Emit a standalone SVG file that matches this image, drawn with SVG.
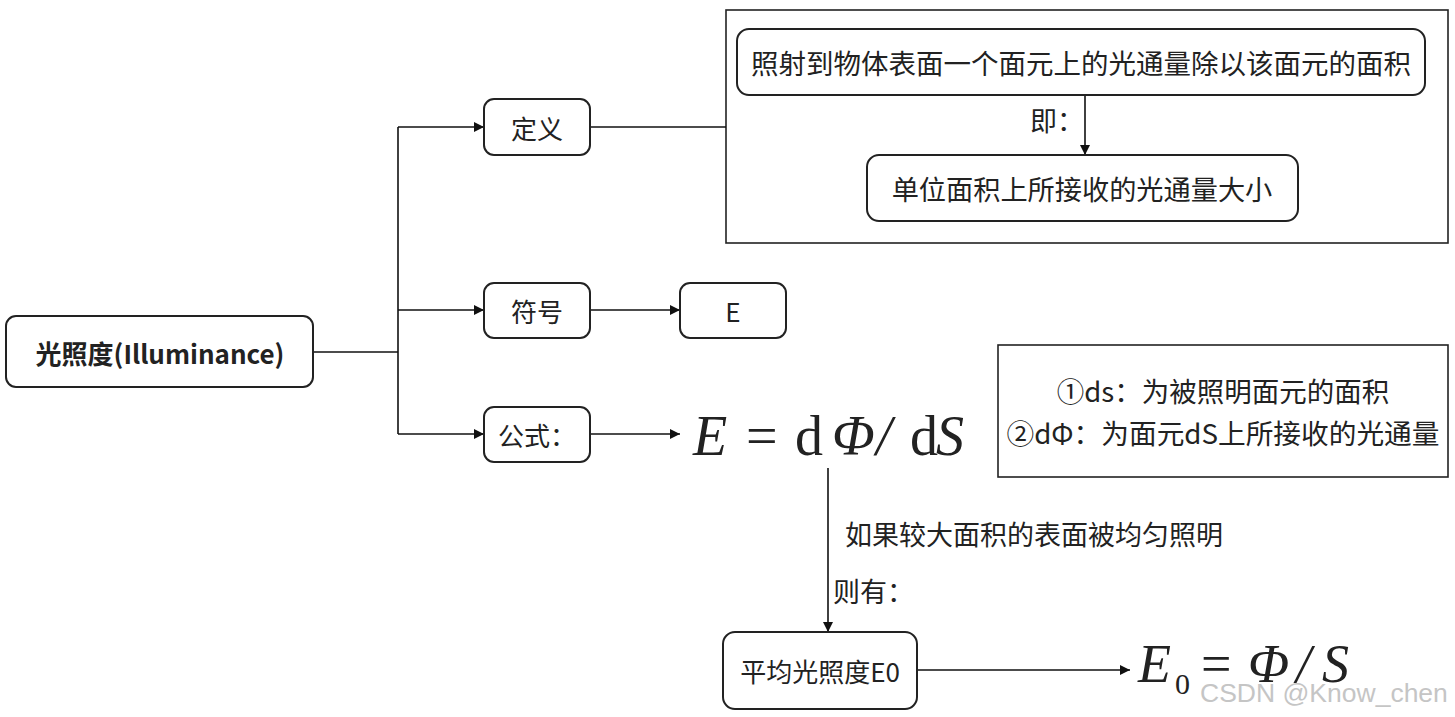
<svg xmlns="http://www.w3.org/2000/svg" width="1455" height="717" viewBox="0 0 1455 717">
<defs>
<marker id="arr" viewBox="0 0 10 10" refX="10" refY="5" markerWidth="10" markerHeight="10" markerUnits="userSpaceOnUse" orient="auto">
<path d="M0,0 L10,5 L0,10 z" fill="#111"/>
</marker>
<style>
.box{fill:#fff;stroke:#222;stroke-width:2}
.frame{fill:none;stroke:#222;stroke-width:1.6}
.t{font-family:"Noto Sans CJK SC","Noto Sans",sans-serif;font-size:26px;fill:#222;text-anchor:middle;dominant-baseline:central}
.t.big{font-size:27.5px}
.l{font-family:"Noto Sans CJK SC","Noto Sans",sans-serif;font-size:27px;fill:#222}
.c{fill:none;stroke:#111;stroke-width:1.6}
.m{font-family:"Liberation Serif","DejaVu Serif",serif;fill:#222}
</style>
</defs>
<rect width="1455" height="717" fill="#fff"/>
<g id="def-frame">
<rect class="frame" x="726" y="10" width="722" height="233"/>
</g>
<g id="note-frame">
<rect class="frame" x="998" y="345" width="450" height="132"/>
</g>
<g id="connectors">
<path class="c" d="M313,352 H398"/>
<path class="c" d="M398,127 V434"/>
<path class="c" d="M398,127 H484" marker-end="url(#arr)"/>
<path class="c" d="M398,310 H484" marker-end="url(#arr)"/>
<path class="c" d="M398,434 H484" marker-end="url(#arr)"/>
<path class="c" d="M590,127 H726"/>
<path class="c" d="M1085,95 V155" marker-end="url(#arr)"/>
<path class="c" d="M590,310 H680" marker-end="url(#arr)"/>
<path class="c" d="M590,434 H680" marker-end="url(#arr)"/>
<path class="c" d="M828,468 V632" marker-end="url(#arr)"/>
<path class="c" d="M917,670 H1130" marker-end="url(#arr)"/>
<text class="l" x="1030" y="131">即：</text>
<text class="l" x="845" y="545">如果较大面积的表面被均匀照明</text>
<text class="l" x="833" y="602">则有：</text>
</g>
<g id="root">
<rect class="box" x="6" y="316" width="307" height="71" rx="10"/>
<text class="t" x="160" y="352" font-weight="bold">光照度(Illuminance)</text>
</g>
<g id="def">
<rect class="box" x="484" y="99" width="106" height="56" rx="10"/>
<text class="t" x="537" y="127">定义</text>
</g>
<g id="def1">
<rect class="box" x="737" y="29" width="688" height="66" rx="12"/>
<text class="t big" x="1081" y="62">照射到物体表面一个面元上的光通量除以该面元的面积</text>
</g>
<g id="def2">
<rect class="box" x="867" y="155" width="431" height="66" rx="12"/>
<text class="t" x="1082" y="188" style="font-size:27.2px">单位面积上所接收的光通量大小</text>
</g>
<g id="sym">
<rect class="box" x="484" y="283" width="106" height="55" rx="10"/>
<text class="t" x="537" y="310">符号</text>
</g>
<g id="symE">
<rect class="box" x="680" y="283" width="106" height="55" rx="10"/>
<text class="t" x="733" y="310">E</text>
</g>
<g id="formula">
<rect class="box" x="484" y="407" width="106" height="55" rx="10"/>
<text class="t" x="537" y="434">公式：</text>
</g>
<g id="formula1" class="m" font-size="56">
<text x="693" y="455" font-style="italic">E</text>
<text x="746" y="455">=</text>
<text x="795" y="455">d</text>
<text x="832" y="455" font-style="italic">Φ</text>
<text x="876" y="455" font-style="italic">/</text>
<text x="910" y="455">d</text>
<text x="936" y="455" font-style="italic">S</text>
</g>
<g id="note">
<text class="t big" x="1223" y="390">①ds：为被照明面元的面积</text>
<text class="t big" x="1223" y="432" style="font-size:27.7px">②dΦ：为面元dS上所接收的光通量</text>
</g>
<g id="avg">
<rect class="box" x="723" y="632" width="194" height="77" rx="12"/>
<text class="t" x="820" y="670">平均光照度E0</text>
</g>
<g id="formula2" class="m" font-size="54">
<text x="1138" y="682" font-style="italic">E</text>
<text x="1175" y="694" font-size="30">0</text>
<text x="1201" y="682">=</text>
<text x="1248" y="682" font-style="italic">Φ</text>
<text x="1296" y="682" font-style="italic">/</text>
<text x="1322" y="682" font-style="italic">S</text>
</g>
<text x="1200" y="702" font-family="Liberation Sans, Arial, sans-serif" font-size="26.5" fill="#bbb" opacity="0.85">CSDN @Know_chen</text>
</svg>
